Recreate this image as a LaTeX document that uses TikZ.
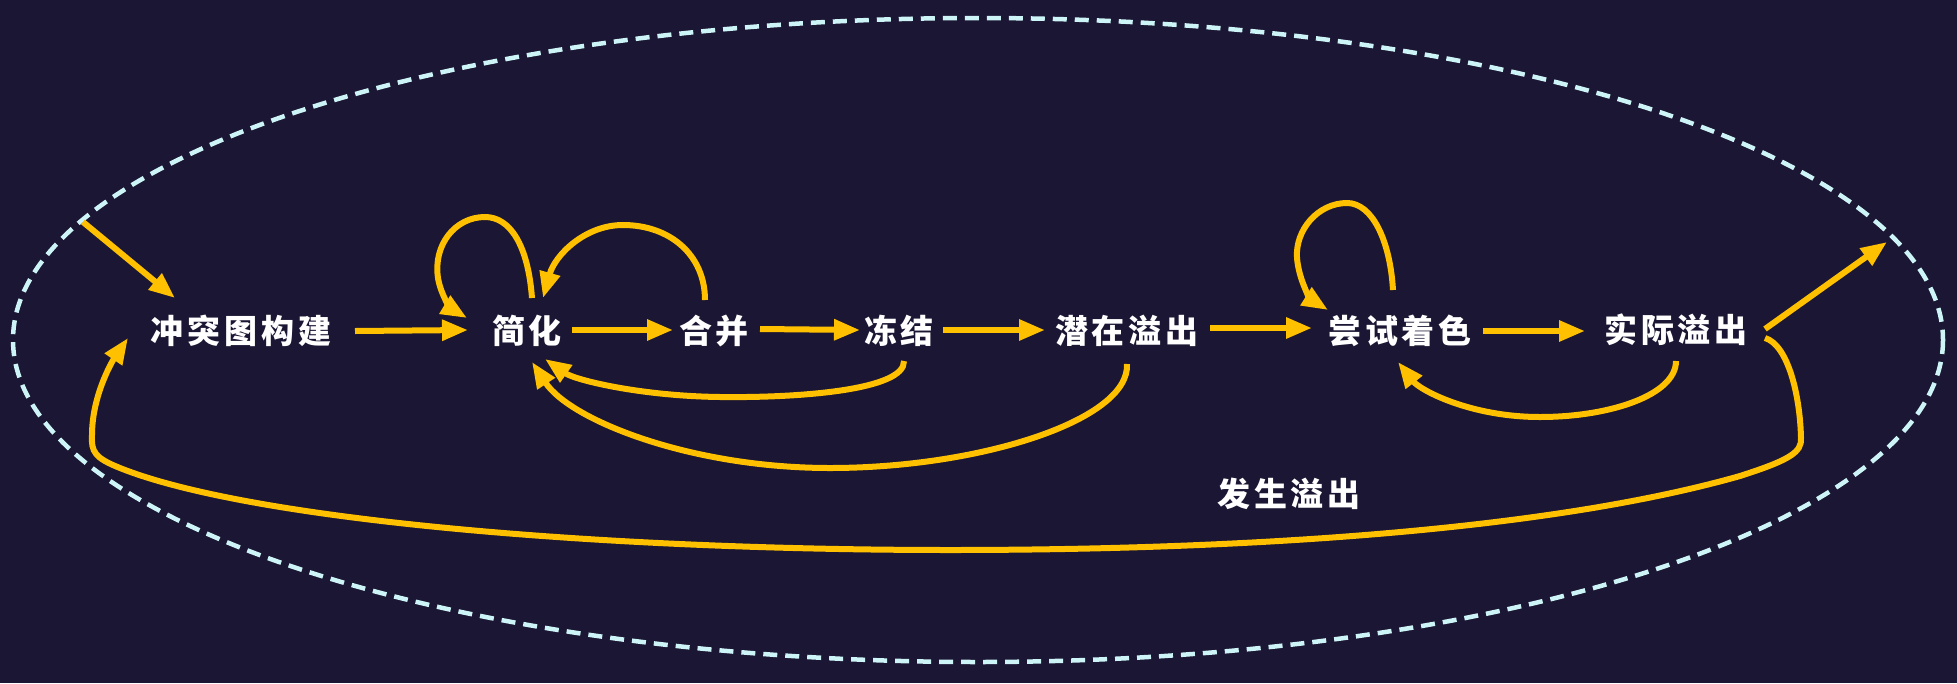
\documentclass[tikz,border=0pt]{standalone}
\usepackage{fontspec}
\newfontfamily\cjk[LetterSpace=12]{Noto Sans CJK SC}
\usetikzlibrary{arrows.meta,calc}
\definecolor{bgc}{HTML}{1B1633}
\definecolor{arrc}{HTML}{FFC000}
\definecolor{ellc}{HTML}{CDF5F7}
\begin{document}
\begin{tikzpicture}[x=1pt,y=-1pt,
  lbl/.style={text=white,inner sep=0pt,font=\cjk\bfseries\fontsize{33}{36}\selectfont},
  arr/.style={draw=arrc,line width=6pt,-{Triangle[length=26pt,width=20pt]}},
  bound/.style={draw=ellc,line width=4.5pt,dash pattern=on 14pt off 8pt}]
\fill[bgc] (0,0) rectangle (1957,683);
\useasboundingbox (0,0) rectangle (1957,683);
\draw[bound] (978,340) ellipse [x radius=965, y radius=322];
\node[lbl] (n1) at (241,331) {冲突图构建};
\node[lbl] (n2) at (527,331) {简化};
\node[lbl] (n3) at (714,331) {合并};
\node[lbl] (n4) at (899,331) {冻结};
\node[lbl] (n5) at (1127,331) {潜在溢出};
\node[lbl] (n6) at (1400,331) {尝试着色};
\node[lbl] (n7) at (1676,330) {实际溢出};
\node[lbl] (l1) at (1289,494) {发生溢出};
\coordinate (cin) at (83,222);
\coordinate (cout) at (1887,242);
% entry / exit
\draw[arr] (cin) -- ($(n1)+(-66,-33)$);
\draw[arr] ($(n7)+(89,-1)$) -- (cout);
% main chain
\draw[arr] ($(n1)+(114,0)$) -- ($(n2)+(-59,-1)$);
\draw[arr] ($(n2)+(45,-1)$) -- ($(n3)+(-41,-1)$);
\draw[arr] ($(n3)+(46,-2)$) -- ($(n4)+(-39,-1)$);
\draw[arr] ($(n4)+(44,-1)$) -- ($(n5)+(-82,-1)$);
\draw[arr] ($(n5)+(83,-3)$) -- ($(n6)+(-88,-3)$);
\draw[arr] ($(n6)+(83,0)$) -- ($(n7)+(-91,1)$);
% self loop on simplify
\draw[arr] ($(n2)+(5,-33)$) .. controls ($(n2)+(1,-86)$) and ($(n2)+(-17,-114)$) .. ($(n2)+(-42,-114)$)
  .. controls ($(n2)+(-72,-114)$) and ($(n2)+(-94,-86)$) .. ($(n2)+(-89,-53)$)
  .. controls ($(n2)+(-86,-35)$) and ($(n2)+(-75,-22)$) .. ($(n2)+(-60,-13)$);
% coalesce -> simplify
\draw[arr] ($(n3)+(-9,-31)$) .. controls ($(n3)+(-9,-76)$) and ($(n3)+(-44,-106)$) .. ($(n3)+(-91,-106)$)
  .. controls ($(n3)+(-129,-106)$) and ($(n3)+(-159,-76)$) .. ($(n2)+(16,-33)$);
% freeze -> simplify
\draw[arr] ($(n4)+(5,30)$) .. controls ($(n4)+(6,59)$) and ($(n4)+(-99,67)$) .. ($(n4)+(-179,66)$)
  .. controls ($(n4)+(-259,65)$) and ($(n2)+(48,49)$) .. ($(n2)+(18,28)$);
% potential spill -> simplify
\draw[arr] ($(n5)+(0,33)$) .. controls ($(n5)+(3,89)$) and ($(n5)+(-147,137)$) .. ($(n5)+(-297,137)$)
  .. controls ($(n5)+(-437,137)$) and ($(n2)+(43,89)$) .. ($(n2)+(5,31)$);
% self loop on select
\draw[arr] ($(n6)+(-7,-41)$) .. controls ($(n6)+(-10,-91)$) and ($(n6)+(-28,-128)$) .. ($(n6)+(-53,-128)$)
  .. controls ($(n6)+(-82,-128)$) and ($(n6)+(-105,-101)$) .. ($(n6)+(-103,-73)$)
  .. controls ($(n6)+(-101,-49)$) and ($(n6)+(-88,-31)$) .. ($(n6)+(-72,-21)$);
% actual spill -> select
\draw[arr] ($(n7)+(0,31)$) .. controls ($(n7)+(0,65)$) and ($(n7)+(-66,87)$) .. ($(n7)+(-136,87)$)
  .. controls ($(n7)+(-206,87)$) and ($(n6)+(20,59)$) .. ($(n6)+(-2,31)$);
% actual spill -> build (spill happened)
\draw[arr] ($(n7)+(89,8)$) .. controls ($(n7)+(112,15)$) and ($(n7)+(124,65)$) .. ($(n7)+(125,108)$)
  .. controls ($(n7)+(126,122)$) and ($(n7)+(114,130)$) .. ($(n7)+(64,146)$)
  .. controls ($(n7)+(-126,200)$) and ($(n7)+(-426,220)$) .. ($(n7)+(-726,220)$)
  .. controls ($(n1)+(359,219)$) and ($(n1)+(9,189)$) .. ($(n1)+(-121,137)$)
  .. controls ($(n1)+(-146,127)$) and ($(n1)+(-150,121)$) .. ($(n1)+(-149,104)$)
  .. controls ($(n1)+(-149,64)$) and ($(n1)+(-128,29)$) .. ($(n1)+(-113,7)$);
\end{tikzpicture}
\end{document}
